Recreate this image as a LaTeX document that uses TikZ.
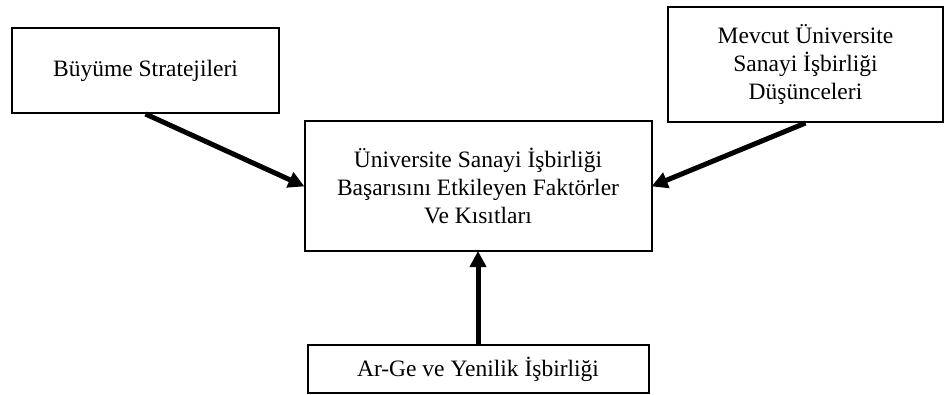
\documentclass[tikz,border=0pt]{standalone}
\usepackage{fontspec}
\setmainfont{Liberation Serif}
\usetikzlibrary{arrows.meta}
\begin{document}
\begin{tikzpicture}[x=1pt,y=-1pt,
  box/.style={draw=black,line width=2pt,inner sep=0pt,align=center,
    font=\fontsize{23.5}{28.4}\selectfont},
  arr/.style={line width=5pt,-{Triangle[length=16pt,width=16pt]},shorten >=-1pt}]
\useasboundingbox (0,0) rectangle (945,394);
\node[box,minimum width=267pt,minimum height=85pt] (b1) at (145.5,70.5) {Büyüme Stratejileri};
\node[box,minimum width=275pt,minimum height=115pt] (b2) at (805.5,64.5) {Mevcut Üniversite\\Sanayi İşbirliği\\Düşünceleri};
\node[box,minimum width=347pt,minimum height=130pt] (c) at (478,186) {Üniversite Sanayi İşbirliği\\Başarısını Etkileyen Faktörler\\Ve Kısıtları};
\node[box,minimum width=341pt,minimum height=48pt] (b4) at (478,369) {Ar-Ge ve Yenilik İşbirliği};
\draw[arr] (b1.south) -- (c.west);
\draw[arr] (b2.south) -- (c.east);
\draw[arr] (b4.north) -- (c.south);
\end{tikzpicture}
\end{document}
